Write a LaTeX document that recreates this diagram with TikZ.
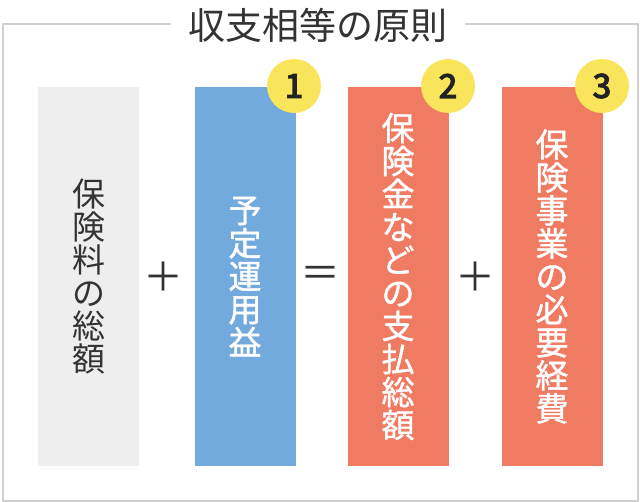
\documentclass[tikz,border=0pt]{standalone}
\usepackage{fontspec}
\setmainfont{Noto Sans CJK JP}
\newfontfamily\jpmed[FakeBold=1.2]{Noto Sans CJK JP}
\newfontfamily\jpdigit[FakeBold=4]{Noto Sans CJK JP}
\definecolor{frameC}{HTML}{D0D0D0}
\definecolor{textC}{HTML}{333333}
\definecolor{digitC}{HTML}{222222}
\definecolor{grayC}{HTML}{EEEEEE}
\definecolor{blueC}{HTML}{73AADE}
\definecolor{redC}{HTML}{F07B63}
\definecolor{yelC}{HTML}{F9E55B}
\tikzset{
  colbox/.style={draw=none, minimum width=101pt, minimum height=379pt, inner sep=0pt},
  vtext/.style={align=center, inner sep=0pt, font=\fontsize{33}{33}\selectfont},
  wtext/.style={vtext, text=white, font=\fontsize{33}{33}\selectfont\jpmed},
  badge/.style={circle, fill=yelC, minimum size=54pt, inner sep=0pt, text=digitC, font=\fontsize{33}{33}\selectfont\jpdigit},
  opsign/.style={inner sep=0pt, text=textC, font=\fontsize{40}{40}\selectfont},
}
\begin{document}
\begin{tikzpicture}[x=1pt,y=-1pt]
\useasboundingbox (0,0) rectangle (640,502);
% title and frame
\node[inner sep=0pt, minimum width=294pt, text=textC, font=\fontsize{37}{37}\selectfont] (title) at (318,25) {収支相等の原則};
\coordinate (tl) at (2.5,24.5);
\coordinate (bl) at (2.5,500.5);
\coordinate (br) at (637.5,500.5);
\coordinate (tr) at (637.5,24.5);
\draw[frameC, line width=2pt] (title.west |- tl) -- (tl) -- (bl) -- (br) -- (tr) -- (title.east |- tr);
% boxes
\node[colbox, fill=grayC] (b0) at (88.5,276.5) {};
\node[colbox, fill=blueC] (b1) at (245,276.5) {};
\node[colbox, fill=redC] (b2) at (398,276.5) {};
\node[colbox, fill=redC] (b3) at (552,276.5) {};
% vertical texts
\node[vtext, text=textC] (t0) at (b0) {保\\険\\料\\の\\総\\額};
\node[wtext] (t1) at (b1) {予\\定\\運\\用\\益};
\node[wtext] (t2) at (b2) {保\\険\\金\\な\\ど\\の\\支\\払\\総\\額};
\node[wtext] (t3) at (b3) {保\\険\\事\\業\\の\\必\\要\\経\\費};
% badges
\node[badge] (n1) at (294,86) {1};
\node[badge] (n2) at (448,86) {2};
\node[badge] (n3) at (602,86) {3};
% operators
\node[opsign] (p1) at (163.5,276.5) {＋};
\node[opsign] (eq) at (320,276.5) {＝};
\node[opsign] (p2) at (475,276.5) {＋};
\end{tikzpicture}
\end{document}
